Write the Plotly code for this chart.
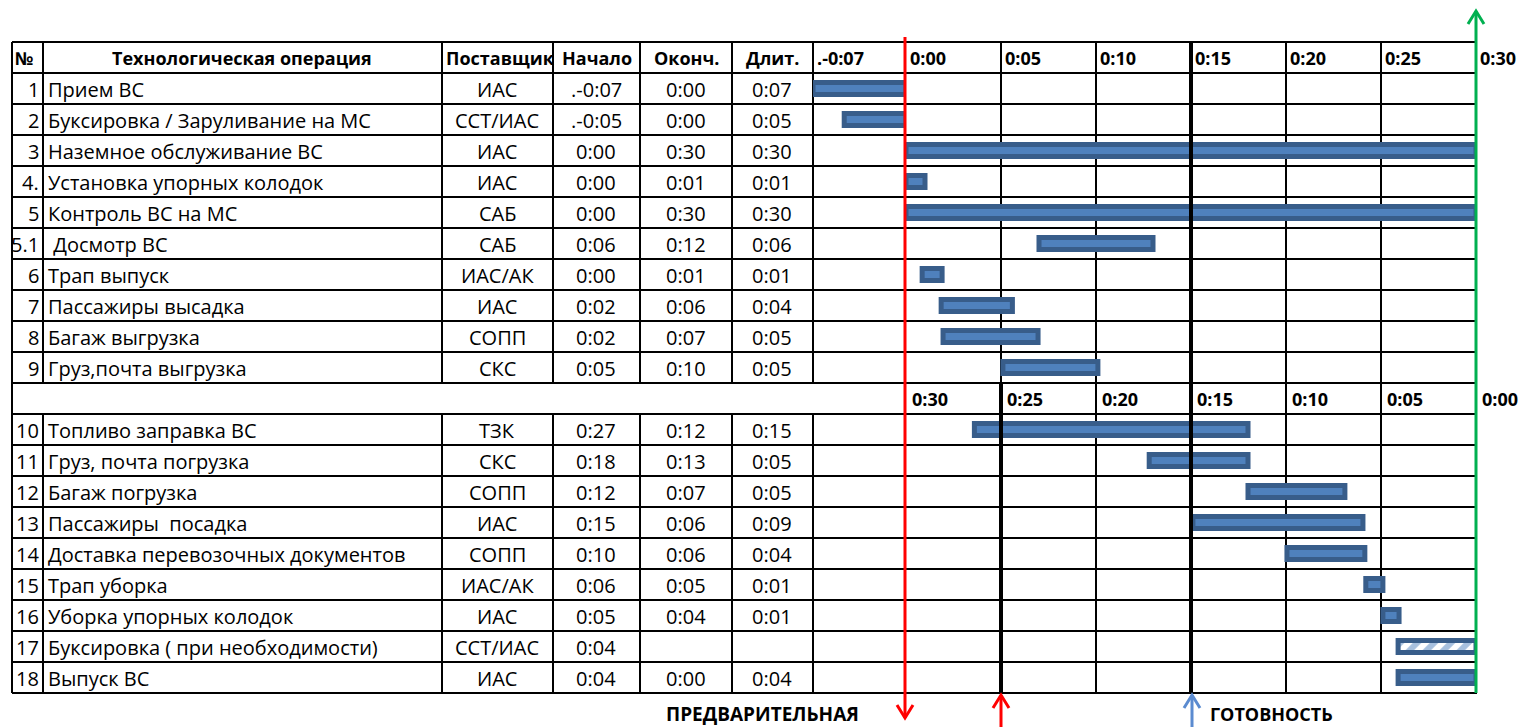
import plotly.graph_objects as go

W, H = 1526, 727

# ---------------- table data ----------------
row_nums = ["1", "2", "3", "4.", "5", "5.1", "6", "7", "8", "9",
            "10", "11", "12", "13", "14", "15", "16", "17", "18"]
operations = ["Прием ВС", "Буксировка / Заруливание на МС", "Наземное обслуживание ВС",
              "Установка упорных колодок", "Контроль ВС на МС", " Досмотр ВС", "Трап выпуск",
              "Пассажиры высадка", "Багаж выгрузка", "Груз,почта выгрузка",
              "Топливо заправка ВС", "Груз, почта погрузка", "Багаж погрузка",
              "Пассажиры  посадка", "Доставка перевозочных документов", "Трап уборка",
              "Уборка упорных колодок", "Буксировка ( при необходимости)", "Выпуск ВС"]
suppliers = ["ИАС", "ССТ/ИАС", "ИАС", "ИАС", "САБ", "САБ", "ИАС/АК", "ИАС", "СОПП", "СКС",
             "ТЗК", "СКС", "СОПП", "ИАС", "СОПП", "ИАС/АК", "ИАС", "ССТ/ИАС", "ИАС"]
start_txt = [".-0:07", ".-0:05", "0:00", "0:00", "0:00", "0:06", "0:00", "0:02", "0:02", "0:05",
             "0:27", "0:18", "0:12", "0:15", "0:10", "0:06", "0:05", "0:04", "0:04"]
end_txt = ["0:00", "0:00", "0:30", "0:01", "0:30", "0:12", "0:01", "0:06", "0:07", "0:10",
           "0:12", "0:13", "0:07", "0:06", "0:06", "0:05", "0:04", "", "0:00"]
dur_txt = ["0:07", "0:05", "0:30", "0:01", "0:30", "0:06", "0:01", "0:04", "0:05", "0:05",
           "0:15", "0:05", "0:05", "0:09", "0:04", "0:01", "0:01", "", "0:04"]
header_cols = ["№", "Технологическая операция", "Поставщик", "Начало", "Оконч.", "Длит."]

top_tick_labels = [".-0:07", "0:00", "0:05", "0:10", "0:15", "0:20", "0:25", "0:30"]
top_tick_values = [-7, 0, 5, 10, 15, 20, 25, 30]
bottom_tick_labels = ["0:30", "0:25", "0:20", "0:15", "0:10", "0:05", "0:00"]
bottom_tick_values = [30, 25, 20, 15, 10, 5, 0]

# ---------------- bars as drawn (minutes) ----------------
pre_ops = ["1", "2"]                       # before arrival (-0:07 .. 0:00)
pre_start = [-7, -4.65]
pre_end = [0, 0]

arrival_ops = ["3", "4.", "5", "5.1", "6", "7", "8", "9"]   # minutes after arrival
arrival_start = [0, 0, 0, 7, 0.85, 1.85, 1.95, 5.1]
arrival_end = [30, 1, 30, 13, 1.9, 5.6, 6.95, 10.1]

depart_ops = ["10", "11", "12", "13", "14", "15", "16", "18"]  # minutes before departure
depart_start = [26.4, 17.2, 12.0, 14.9, 9.95, 5.8, 4.9, 4.1]
depart_end = [12.0, 12.0, 6.9, 5.95, 5.85, 4.9, 4.05, 0]

optional_ops = ["17"]
optional_start = [4.1]
optional_end = [0]

# ---------------- layout helpers ----------------
FILL = "#4F81BD"
EDGE = "#385D8A"
ROW_H = 31.0
TOP = 42.0
SEP_ROW = 11
N_ROWS = 20


def px(x):
    return x / W


def py(y):
    return 1 - y / H


def fig_row(i):
    return i + 1 if i < 10 else i + 2


row_of = {n: fig_row(i) for i, n in enumerate(row_nums)}

X0, X30 = 906, 1476   # pixel span of 0..30 minutes
XPRE = 813            # start of the "-0:07" column

fig = go.Figure()


def add_bars(ops, s, e, axis, pattern=None):
    marker = dict(color=FILL, line=dict(color=EDGE, width=5))
    if pattern:
        marker = dict(color="white", line=dict(color=EDGE, width=5),
                      pattern=dict(shape="/", fgcolor=FILL, bgcolor="white", size=12, solidity=0.5))
    fig.add_trace(go.Bar(
        orientation="h", y=[row_of[o] for o in ops],
        base=s, x=[b - a for a, b in zip(s, e)],
        width=0.39, marker=marker, xaxis=axis, yaxis="y",
        cliponaxis=False, hoverinfo="skip", showlegend=False))


add_bars(pre_ops, pre_start, pre_end, "x2")
add_bars(arrival_ops, arrival_start, arrival_end, "x")
add_bars(depart_ops, depart_start, depart_end, "x3")
add_bars(optional_ops, optional_start, optional_end, "x3", pattern=True)

shapes = []
LINE = dict(color="black", width=2)
LEFT, RIGHT = 12, 1477

# horizontal grid
for b in range(N_ROWS + 2):
    yv = b - 0.5
    shapes.append(dict(type="line", xref="paper", yref="y", x0=px(LEFT), x1=px(RIGHT),
                       y0=yv, y1=yv, line=LINE, layer="below"))
# table verticals
shapes.append(dict(type="line", xref="paper", yref="y", x0=px(LEFT), x1=px(LEFT),
                   y0=-0.5, y1=N_ROWS + 0.5, line=LINE, layer="below"))
for cx in [43, 442, 553, 640, 732, 813]:
    for y0, y1 in [(-0.5, SEP_ROW - 0.5), (SEP_ROW + 0.5, N_ROWS + 0.5)]:
        shapes.append(dict(type="line", xref="paper", yref="y", x0=px(cx), x1=px(cx),
                           y0=y0, y1=y1, line=LINE, layer="below"))
# time grid
for t in [5, 10, 20, 25]:
    shapes.append(dict(type="line", xref="x", yref="y", x0=t, x1=t,
                       y0=-0.5, y1=N_ROWS + 0.5, line=LINE, layer="below"))
shapes.append(dict(type="line", xref="x", yref="y", x0=15, x1=15,
                   y0=-0.5, y1=N_ROWS + 0.5, line=dict(color="black", width=4)))
shapes.append(dict(type="line", xref="x3", yref="y", x0=25, x1=25,
                   y0=SEP_ROW - 0.5, y1=N_ROWS + 0.5, line=dict(color="black", width=4)))


def arrow(x, ytail, yhead, color, width=3, hw=8, hl=13):
    d = 1 if yhead > ytail else -1
    shapes.append(dict(type="line", xref="paper", yref="paper", x0=px(x), x1=px(x),
                       y0=py(ytail), y1=py(yhead), line=dict(color=color, width=width)))
    path = (f"M {px(x - hw)},{py(yhead - d * hl)} L {px(x)},{py(yhead)} "
            f"L {px(x + hw)},{py(yhead - d * hl)}")
    shapes.append(dict(type="path", xref="paper", yref="paper", path=path,
                       line=dict(color=color, width=width)))


arrow(X0 - 1, 37, 718, "#FF0000")
arrow(X30, 693, 11, "#00B050")
arrow(1001, 727, 695, "#FF0000")
arrow(1192, 727, 695, "#5B8BD0")

ann = []
BODY = dict(family="Open Sans", size=20, color="black")
BOLD = dict(family="Open Sans", size=18, color="black")

for i, n in enumerate(row_nums):
    r = fig_row(i)
    ann.append(dict(x=px(41), y=r, xref="paper", yref="y", text=n, xanchor="right",
                    yanchor="middle", yshift=-1, showarrow=False, font=BODY))
    ann.append(dict(x=px(46), y=r, xref="paper", yref="y", text=operations[i], xanchor="left",
                    yanchor="middle", yshift=-1, showarrow=False, font=BODY))
    for cx, txt in [(497, suppliers[i]), (596, start_txt[i]), (686, end_txt[i]), (772, dur_txt[i])]:
        if txt:
            ann.append(dict(x=px(cx), y=r, xref="paper", yref="y", text=txt, xanchor="center",
                            yanchor="middle", yshift=-1, showarrow=False, font=BODY))

hdr_pos = [(13, "left"), (242, "center"), (444, "left"), (597, "center"), (686, "center"), (772, "center")]
for (cx, anc), txt in zip(hdr_pos, header_cols):
    ann.append(dict(x=px(cx), y=0, xref="paper", yref="y", text=f"<b>{txt}</b>", xanchor=anc,
                    yanchor="middle", showarrow=False, font=BOLD))

for v, lab in zip(top_tick_values, top_tick_labels):
    ann.append(dict(x=v, y=0, xref="x2" if v < 0 else "x", yref="y", text=f"<b>{lab}</b>",
                    xanchor="left", xshift=2, yanchor="middle", showarrow=False, font=BOLD))
for v, lab in zip(bottom_tick_values, bottom_tick_labels):
    ann.append(dict(x=v, y=SEP_ROW, xref="x3", yref="y", text=f"<b>{lab}</b>",
                    xanchor="left", xshift=4, yanchor="middle", showarrow=False, font=BOLD))

ann.append(dict(x=px(762), y=py(714), xref="paper", yref="paper", text="<b>ПРЕДВАРИТЕЛЬНАЯ</b>",
                xanchor="center", yanchor="middle", showarrow=False,
                font=dict(family="Open Sans", size=19, color="black")))
ann.append(dict(x=px(1208), y=py(714), xref="paper", yref="paper", text="<b>ГОТОВНОСТЬ</b>",
                xanchor="left", yanchor="middle", showarrow=False, font=BOLD))

v_top = -(TOP + ROW_H / 2) / ROW_H
v_bot = (H - TOP - ROW_H / 2) / ROW_H
hidden = dict(visible=False, showgrid=False, zeroline=False, fixedrange=True)

fig.update_layout(
    width=W, height=H, margin=dict(l=0, r=0, t=0, b=0),
    paper_bgcolor="white", plot_bgcolor="rgba(0,0,0,0)",
    barmode="overlay", showlegend=False,
    xaxis=dict(domain=[px(X0), px(X30)], range=[0, 30], anchor="y", **hidden),
    xaxis2=dict(domain=[px(XPRE), px(X0)], range=[-7, 0], anchor="y", **hidden),
    xaxis3=dict(domain=[px(X0), px(X30)], range=[30, 0], anchor="y", overlaying="x", **hidden),
    yaxis=dict(domain=[0, 1], range=[v_bot, v_top], anchor="x", **hidden),
    shapes=shapes, annotations=ann,
)

fig.write_html("out.html", config=dict(displayModeBar=False),
               post_script="document.body.style.margin='0';document.body.style.overflow='hidden';")
